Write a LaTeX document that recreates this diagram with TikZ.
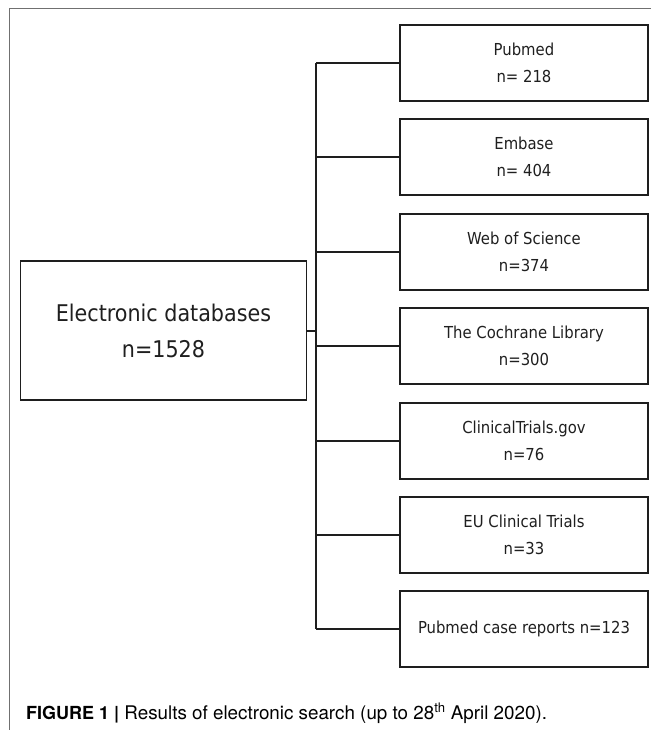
\documentclass[tikz,border=0pt]{standalone}
\usepackage{fontspec}
\newfontfamily\boxfont{DejaVu Sans Condensed}
\newfontfamily\capfont{TeX Gyre Heros}
\definecolor{framegray}{HTML}{707070}
\definecolor{boxline}{HTML}{1E1E1E}
\begin{document}
\begin{tikzpicture}[x=1pt,y=-1pt,
  dbbox/.style={draw=boxline, line width=1.6pt, minimum width=248pt, minimum height=76pt,
    inner sep=0pt, align=center, font=\boxfont\fontsize{16.5}{27}\selectfont, text=black!88},
  mainbox/.style={draw=boxline, line width=1.8pt, minimum width=286pt, minimum height=139pt,
    inner sep=0pt, align=center, font=\boxfont\fontsize{23}{36}\selectfont, text=black!88},
  conn/.style={draw=boxline, line width=1.5pt}]
\useasboundingbox (0,0) rectangle (651,730);
\draw[framegray, line width=1pt] (651,8.5) -- (9.5,8.5) -- (9.5,730);
\node[mainbox] (main) at (163.5,330.5) {Electronic databases\\n=1528};
\node[dbbox] (b1) at (524,63) {Pubmed\\n= 218};
\node[dbbox] (b2) at (524,157) {Embase\\n= 404};
\node[dbbox] (b3) at (524,252) {Web of Science\\n=374};
\node[dbbox] (b4) at (524,346) {The Cochrane Library\\n=300};
\node[dbbox] (b5) at (524,441) {ClinicalTrials.gov\\n=76};
\node[dbbox] (b6) at (524,535) {EU Clinical Trials\\n=33};
\node[dbbox] (b7) at (524,629) {Pubmed case reports n=123};
\coordinate (bus) at (316,330.5);
\draw[conn, line width=2pt] (main.east) -- (bus);
\draw[conn] (bus |- b1.west) -- (bus |- b7.west);
\foreach \b in {b1,b2,b3,b4,b5,b6,b7}{
  \draw[conn] (bus |- \b.west) -- (\b.west);
}
\node[anchor=base west, inner sep=0pt, font=\capfont\fontsize{18.8}{22}\selectfont] (cap) at (26,719)
  {{\fontsize{18}{20}\selectfont\textbf{FIGURE 1 |}} Results of electronic search (up to 28\textsuperscript{th} April 2020).};
\end{tikzpicture}
\end{document}
